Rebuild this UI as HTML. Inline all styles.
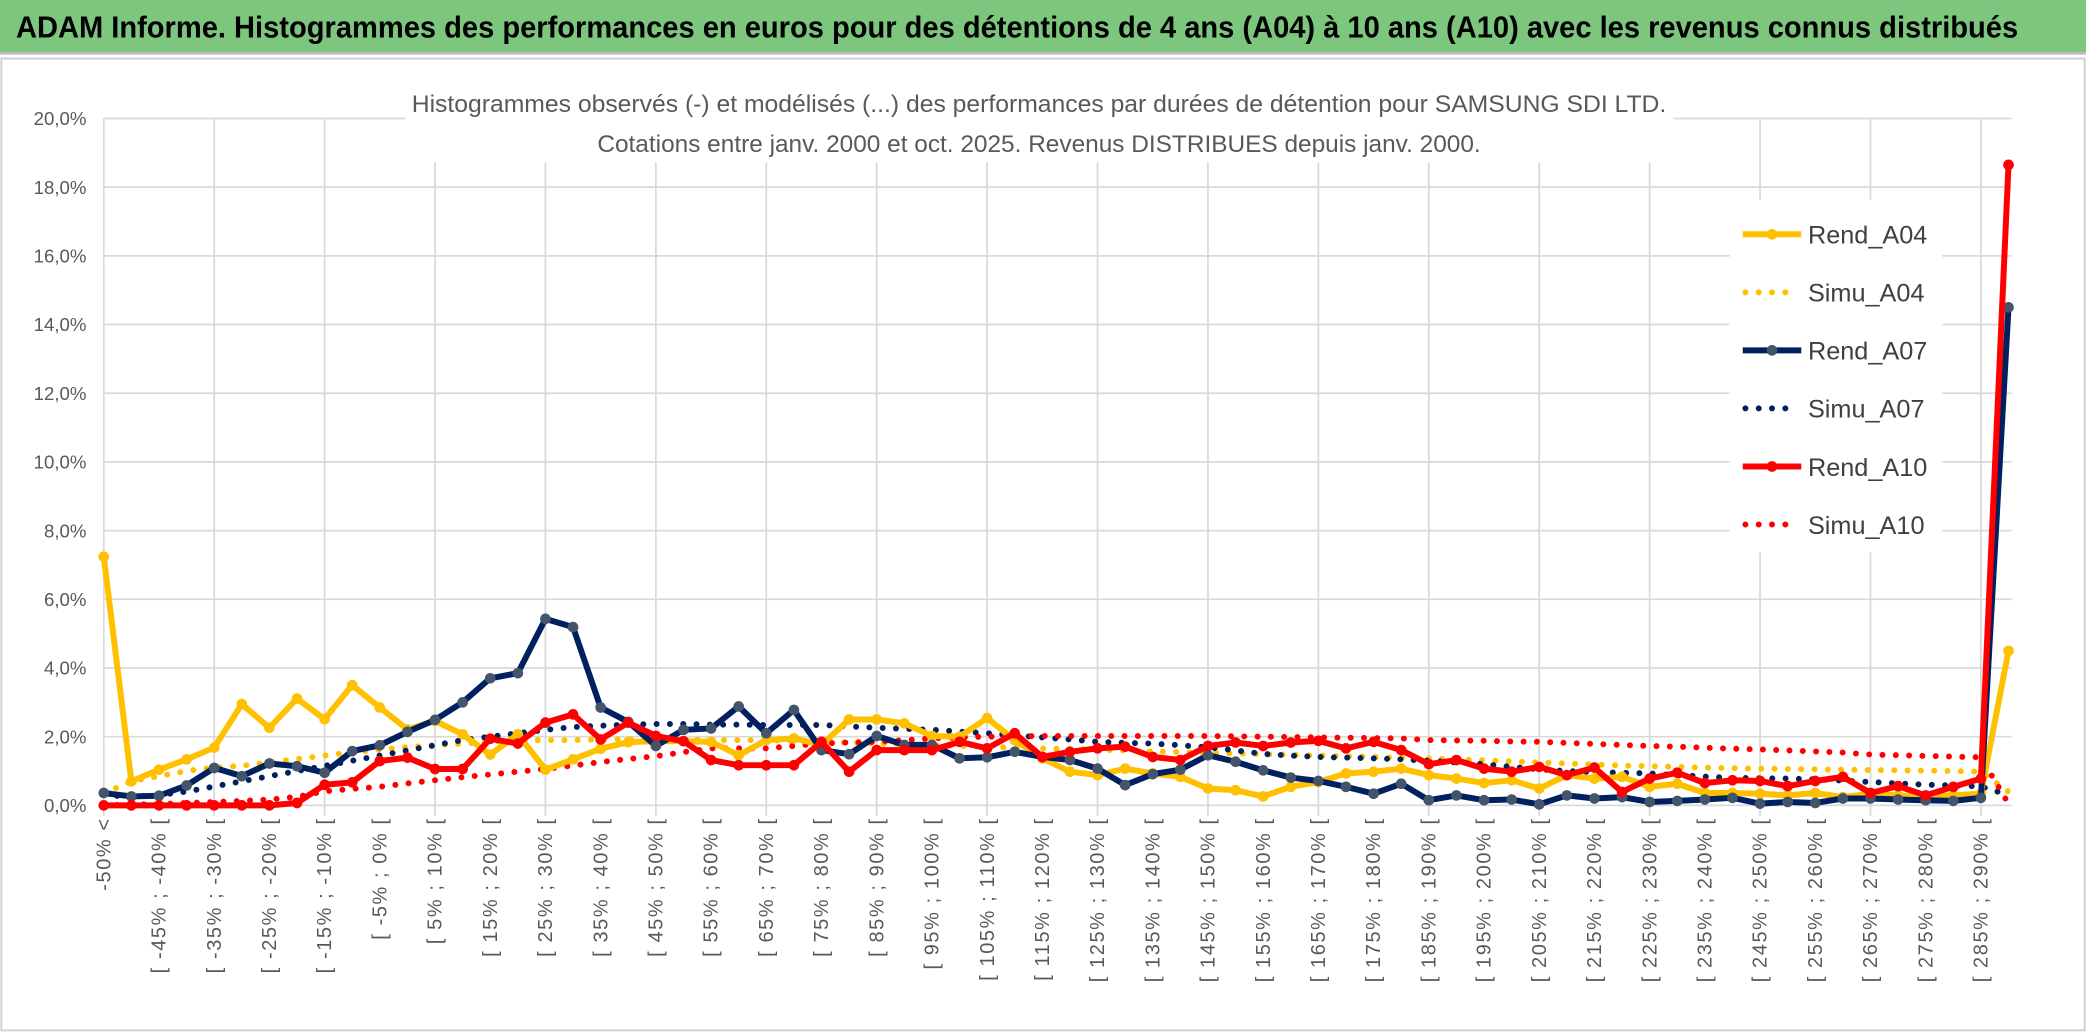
<!DOCTYPE html>
<html><head><meta charset="utf-8"><style>
html,body{margin:0;padding:0;background:#fff;}
svg{display:block;}
text{font-family:"Liberation Sans Narrow","Liberation Sans",sans-serif;}
</style></head><body>
<svg id="chart" width="2086" height="1033" viewBox="0 0 1568 776" preserveAspectRatio="none" xmlns="http://www.w3.org/2000/svg">
<rect x="0" y="0" width="1568" height="776" fill="#fff"/>
<rect x="0" y="0" width="1568" height="40" fill="#7DC67E"/>
<line x1="0" y1="40" x2="1568" y2="40" stroke="#bbb" stroke-width="2"/>
<text x="12" y="28" font-size="23" font-weight="bold" fill="#000" textLength="1505" lengthAdjust="spacingAndGlyphs">ADAM Informe. Histogrammes des performances en euros pour des détentions de 4 ans (A04) à 10 ans (A10) avec les revenus connus distribués</text>
<rect x="1" y="44" width="1566" height="730" fill="none" stroke="#d0d0d0" stroke-width="1.5"/>
<g id="grid"></g>
<g id="yticks"></g>
<g id="xticks"></g>
<rect x="305" y="60" width="953" height="62" fill="#fff"/>
<text x="781" y="84" font-size="18" fill="#595959" text-anchor="middle" textLength="943" lengthAdjust="spacingAndGlyphs">Histogrammes observés (-) et modélisés (...) des performances par durées de détention pour SAMSUNG SDI LTD.</text>
<text x="781" y="114" font-size="18" fill="#595959" text-anchor="middle" textLength="664" lengthAdjust="spacingAndGlyphs">Cotations entre janv. 2000 et oct. 2025. Revenus DISTRIBUES depuis janv. 2000.</text>
<g id="series"></g>
<rect x="1300" y="150" width="160" height="265" fill="#fff"/>
<g id="legend"></g>
</svg>
<script>
const categories = ["-50% <"];
for (let i = 1; i < 69; i++) { const lo = -55 + 5 * i; categories.push("[ " + lo + "% ; " + (lo + 5) + "% ["); }
categories.push("> 290%");
const yTicks = [0,2,4,6,8,10,12,14,16,18,20];
const yTickLabels = ["0,0%","2,0%","4,0%","6,0%","8,0%","10,0%","12,0%","14,0%","16,0%","18,0%","20,0%"];
const rendA04 = [7.24,0.70,1.04,1.34,1.68,2.95,2.26,3.11,2.51,3.50,2.85,2.21,2.46,2.07,1.48,2.07,1.04,1.34,1.65,1.84,1.87,1.87,1.85,1.46,1.90,1.95,1.76,2.50,2.50,2.39,2.02,2.00,2.54,1.90,1.37,0.98,0.88,1.07,0.93,0.83,0.49,0.44,0.26,0.54,0.68,0.93,0.98,1.07,0.88,0.78,0.65,0.73,0.49,0.88,0.78,0.83,0.54,0.63,0.36,0.36,0.34,0.29,0.36,0.24,0.34,0.29,0.26,0.29,0.34,4.50];
const simuA04 = [0.35,0.70,0.85,1.00,1.10,1.15,1.25,1.35,1.45,1.55,1.62,1.70,1.75,1.80,1.85,1.88,1.90,1.90,1.92,1.92,1.92,1.92,1.90,1.90,1.90,1.88,1.85,1.83,1.80,1.78,1.75,1.73,1.70,1.68,1.66,1.64,1.62,1.60,1.57,1.55,1.53,1.51,1.49,1.47,1.45,1.43,1.41,1.39,1.37,1.34,1.31,1.28,1.25,1.22,1.19,1.16,1.14,1.12,1.10,1.08,1.07,1.06,1.05,1.04,1.03,1.02,1.01,1.00,0.98,0.40];
const rendA07 = [0.36,0.26,0.28,0.58,1.09,0.85,1.22,1.14,0.95,1.58,1.75,2.14,2.49,3.00,3.70,3.85,5.43,5.19,2.85,2.43,1.73,2.20,2.24,2.88,2.10,2.78,1.61,1.49,2.02,1.76,1.76,1.37,1.40,1.56,1.41,1.32,1.07,0.59,0.91,1.04,1.46,1.27,1.02,0.81,0.71,0.54,0.34,0.63,0.15,0.29,0.15,0.17,0.03,0.29,0.20,0.24,0.10,0.13,0.17,0.22,0.05,0.10,0.07,0.20,0.20,0.17,0.15,0.13,0.22,14.50];
const simuA07 = [0.30,0.25,0.30,0.40,0.55,0.70,0.85,1.00,1.15,1.30,1.45,1.60,1.75,1.90,2.00,2.10,2.20,2.28,2.32,2.35,2.37,2.37,2.35,2.35,2.34,2.34,2.34,2.30,2.26,2.23,2.20,2.15,2.10,2.04,1.98,1.92,1.85,1.82,1.80,1.75,1.69,1.60,1.50,1.45,1.41,1.39,1.37,1.34,1.30,1.25,1.20,1.12,1.05,1.00,0.97,0.95,0.93,0.88,0.84,0.80,0.79,0.78,0.76,0.72,0.68,0.64,0.60,0.58,0.55,0.30];
const rendA10 = [0.00,0.00,0.00,0.00,0.00,0.00,0.00,0.07,0.60,0.67,1.29,1.39,1.06,1.06,1.94,1.80,2.41,2.65,1.92,2.41,2.02,1.87,1.32,1.17,1.17,1.17,1.85,0.98,1.61,1.61,1.61,1.85,1.66,2.10,1.41,1.56,1.66,1.71,1.41,1.32,1.73,1.83,1.73,1.83,1.88,1.66,1.85,1.61,1.20,1.32,1.07,0.98,1.12,0.88,1.10,0.39,0.78,0.95,0.65,0.73,0.71,0.56,0.71,0.83,0.36,0.56,0.29,0.54,0.78,18.65];
const simuA10 = [0.00,0.02,0.04,0.07,0.10,0.13,0.17,0.25,0.41,0.48,0.54,0.64,0.73,0.82,0.90,0.98,1.06,1.16,1.26,1.35,1.43,1.55,1.66,1.66,1.66,1.73,1.80,1.83,1.85,1.90,1.95,1.98,2.00,2.01,2.02,2.02,2.02,2.02,2.02,2.02,2.02,2.01,2.00,1.99,1.98,1.97,1.96,1.95,1.90,1.89,1.88,1.86,1.85,1.82,1.79,1.76,1.73,1.71,1.68,1.65,1.63,1.60,1.57,1.54,1.48,1.46,1.44,1.42,1.40,0.05];

const NS = "http://www.w3.org/2000/svg";
const X0 = 78, STEP = 20.75, Y0 = 605, Y20 = 89;
function xs(i){ return X0 + i * STEP; }
function ys(v){ return Y0 - (v / 20) * (Y0 - Y20); }
function mk(tag, attrs, parent){ const e = document.createElementNS(NS, tag); for (const k in attrs) e.setAttribute(k, attrs[k]); parent.appendChild(e); return e; }

const grid = document.getElementById("grid");
yTicks.forEach((t, k) => {
  const l = mk("line", {x1: X0, x2: 1512, y1: ys(t), y2: ys(t), stroke: "#d9d9d9", "stroke-width": 1.3}, grid);
  
  
  const tx = mk("text", {x: 65, y: ys(t) + 5, "font-size": 14, fill: "#595959", "text-anchor": "end"}, document.getElementById("yticks"));
  
  
  tx.textContent = yTickLabels[k];
});
for (let i = 0; i < categories.length; i += 4) {
  const l = mk("line", {x1: xs(i), x2: xs(i), y1: Y20, y2: Y0 + 8, stroke: "#d9d9d9", "stroke-width": 1.3}, grid);
  
  
}
const xt = document.getElementById("xticks");
categories.forEach((c, i) => {
  if (i % 2 !== 0) return;
  const x = xs(i) + 5, y = 614;
  const t = mk("text", {x: x, y: y, "font-size": 15, fill: "#595959", "text-anchor": "end", "letter-spacing": "1.2", transform: "rotate(-90 " + x + " " + y + ")"}, xt);
  
  
  t.textContent = c;
});

const sg = document.getElementById("series");
function drawSolid(data, color, mcolor, name){
  const g = mk("g", {}, sg);
  
  
  const pts = data.map((v, i) => xs(i) + "," + ys(v)).join(" ");
  mk("polyline", {points: pts, fill: "none", stroke: color, "stroke-width": 4.5, "stroke-linejoin": "round"}, g);
  data.forEach((v, i) => {
    const c = mk("circle", {cx: xs(i), cy: ys(v), r: 4, fill: mcolor}, g);
    
    
  });
}
function drawDotted(data, color, name){
  const g = mk("g", {}, sg);
  
  
  const pts = data.map((v, i) => xs(i) + "," + ys(v)).join(" ");
  mk("polyline", {points: pts, fill: "none", stroke: color, "stroke-width": 4.5, "stroke-dasharray": "0 10", "stroke-linecap": "round"}, g);
}
drawDotted(simuA04, "#FFC000", "simu-a04-line");
drawDotted(simuA07, "#002060", "simu-a07-line");
drawDotted(simuA10, "#FF0000", "simu-a10-line");
drawSolid(rendA04, "#FFC000", "#FFC000", "rend-a04-line");
drawSolid(rendA07, "#002060", "#44546A", "rend-a07-line");
drawSolid(rendA10, "#FF0000", "#FF0000", "rend-a10-line");

const legendItems = [["Rend_A04","#FFC000","#FFC000",false],["Simu_A04","#FFC000",null,true],["Rend_A07","#002060","#44546A",false],["Simu_A07","#002060",null,true],["Rend_A10","#FF0000","#FF0000",false],["Simu_A10","#FF0000",null,true]];
const lg = document.getElementById("legend");
legendItems.forEach((it, k) => {
  const y = 176 + k * 43.6;
  const g = mk("g", {}, lg);
  
  
  if (it[3]) mk("line", {x1: 1312, x2: 1352, y1: y, y2: y, stroke: it[1], "stroke-width": 4.5, "stroke-dasharray": "0 10", "stroke-linecap": "round"}, g);
  else { mk("line", {x1: 1310, x2: 1354, y1: y, y2: y, stroke: it[1], "stroke-width": 4.5}, g); mk("circle", {cx: 1332, cy: y, r: 4, fill: it[2]}, g); }
  const t = mk("text", {x: 1359, y: y + 7, "font-size": 19, fill: "#404040"}, g);
  t.textContent = it[0];
});
</script>
</body></html>
